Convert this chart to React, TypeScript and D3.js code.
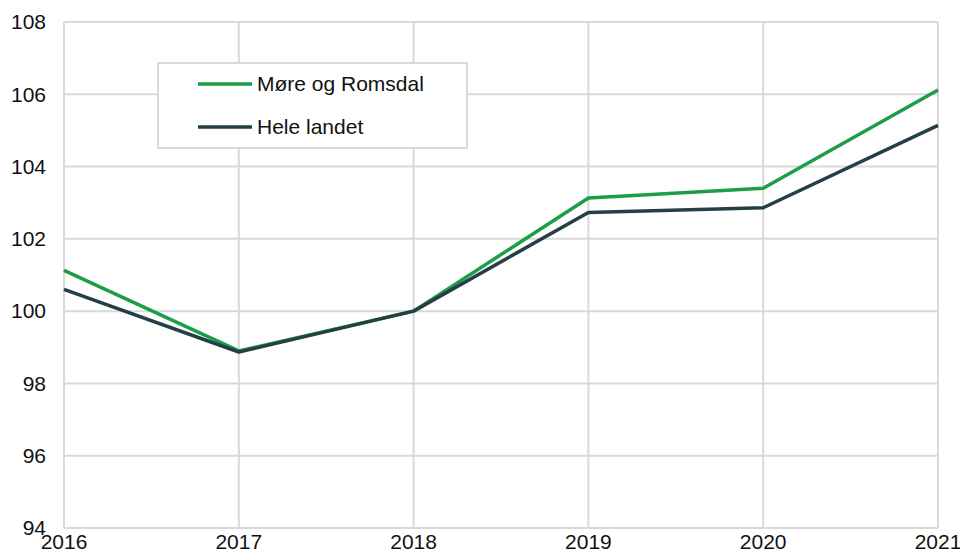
import * as d3 from "d3";
import { useEffect, useRef } from "react";

const years = [2016, 2017, 2018, 2019, 2020, 2021];
const more = [101.13, 98.9, 100.0, 103.13, 103.4, 106.12];
const hele = [100.6, 98.87, 100.0, 102.73, 102.86, 105.14];
const yTicks = [94, 96, 98, 100, 102, 104, 106, 108];
const seriesNames = ["Møre og Romsdal", "Hele landet"];
const colors = ["#1c9e48", "#253f47"];

export default function App() {
  const ref = useRef<SVGSVGElement>(null);

  useEffect(() => {
    const svg = d3.select(ref.current);
    svg.selectAll("*").remove();

    const margin = { top: 22, right: 22, bottom: 24, left: 64 };
    const width = 960 - margin.left - margin.right;
    const height = 552 - margin.top - margin.bottom;
    const font = "'Liberation Sans', Arial, sans-serif";
    const fs = 21;

    const x = d3.scaleLinear().domain([2016, 2021]).range([0, width]);
    const y = d3.scaleLinear().domain([94, 108]).range([height, 0]);

    const g = svg
      .append("g")
      .attr("transform", `translate(${margin.left},${margin.top})`);

    // grid
    g.append("g")
      .selectAll("line")
      .data(yTicks)
      .join("line")
      .attr("x1", 0)
      .attr("x2", width)
      .attr("y1", (d) => y(d))
      .attr("y2", (d) => y(d))
      .attr("stroke", "#d9d9d9")
      .attr("stroke-width", 2);

    g.append("g")
      .selectAll("line")
      .data(years)
      .join("line")
      .attr("x1", (d) => x(d))
      .attr("x2", (d) => x(d))
      .attr("y1", 0)
      .attr("y2", height)
      .attr("stroke", "#d9d9d9")
      .attr("stroke-width", 2);

    // y labels
    g.append("g")
      .selectAll("text")
      .data(yTicks)
      .join("text")
      .attr("x", -18)
      .attr("y", (d) => y(d))
      .attr("dy", "0.35em")
      .attr("text-anchor", "end")
      .attr("font-family", font)
      .attr("font-size", fs)
      .attr("fill", "#111")
      .text((d) => d);

    // x labels
    g.append("g")
      .selectAll("text")
      .data(years)
      .join("text")
      .attr("x", (d) => x(d))
      .attr("y", height + 21)
      .attr("text-anchor", "middle")
      .attr("font-family", font)
      .attr("font-size", fs)
      .attr("fill", "#111")
      .text((d) => d);

    const line = d3
      .line<number>()
      .x((_, i) => x(years[i]))
      .y((d) => y(d));

    [more, hele].forEach((s, i) => {
      g.append("path")
        .datum(s)
        .attr("fill", "none")
        .attr("stroke", colors[i])
        .attr("stroke-width", 3.5)
        .attr("stroke-linejoin", "round")
        .attr("d", line);
    });

    // legend
    const lg = svg.append("g").attr("transform", "translate(158,63)");
    lg.append("rect")
      .attr("width", 309)
      .attr("height", 85)
      .attr("fill", "#fff")
      .attr("stroke", "#d9d9d9")
      .attr("stroke-width", 2);
    seriesNames.forEach((name, i) => {
      const cy = 21 + i * 43;
      lg.append("line")
        .attr("x1", 40)
        .attr("x2", 94)
        .attr("y1", cy)
        .attr("y2", cy)
        .attr("stroke", colors[i])
        .attr("stroke-width", 3.5);
      lg.append("text")
        .attr("x", 99)
        .attr("y", cy)
        .attr("dy", "0.35em")
        .attr("font-family", font)
        .attr("font-size", fs)
        .attr("fill", "#111")
        .text(name);
    });
  }, []);

  return (
    <svg
      ref={ref}
      width={960}
      height={552}
      style={{ position: "absolute", left: 0, top: 0, background: "#fff" }}
    />
  );
}
